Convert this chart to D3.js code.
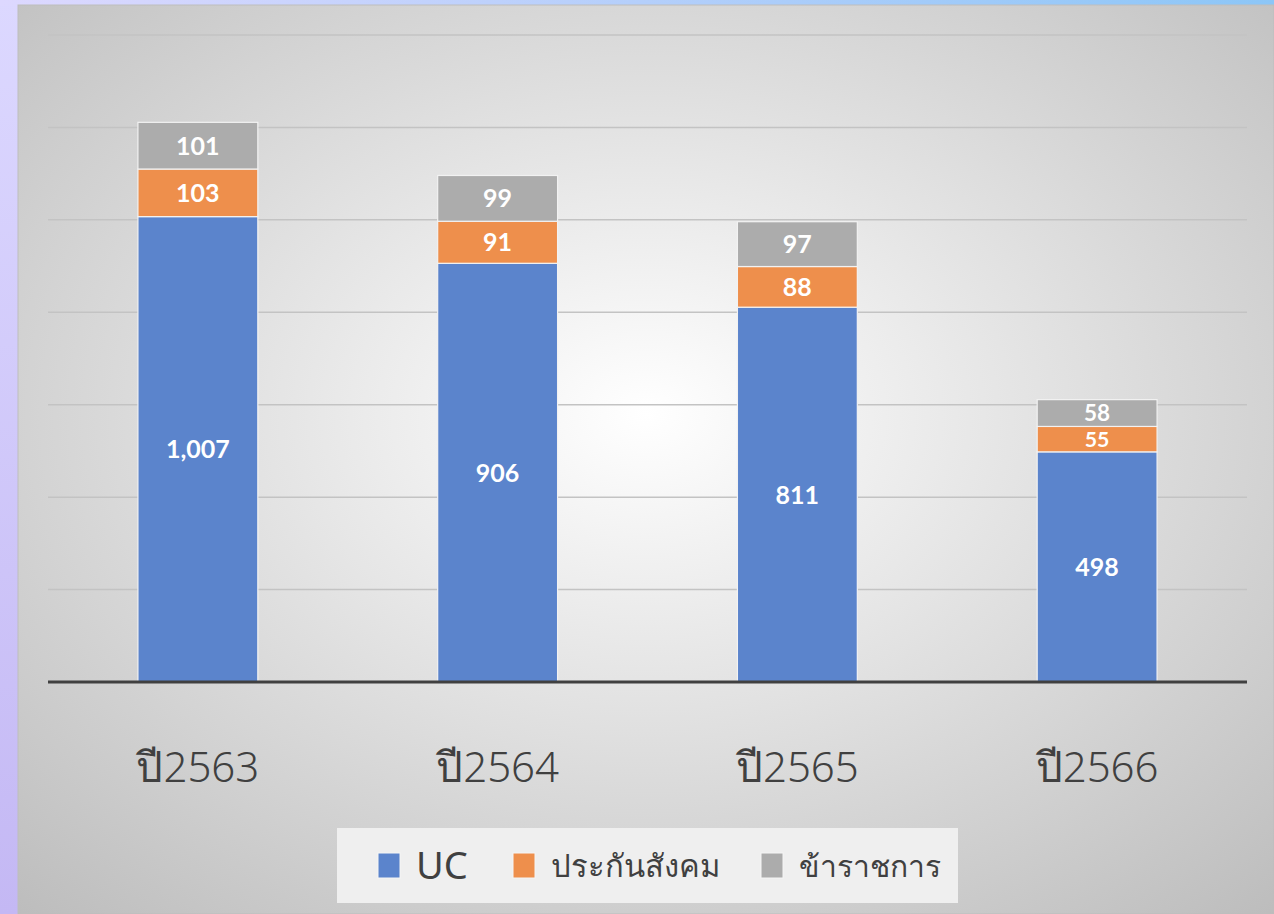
<!DOCTYPE html>
<html>
<head>
<meta charset="utf-8">
<script src="https://cdn.jsdelivr.net/npm/d3@7"></script>
<style>
  html, body { margin: 0; padding: 0; background: #ddd8ff; }
  svg { display: block; }
</style>
</head>
<body>
<div id="wrapper"></div>
<script>
const years = ["ปี2563", "ปี2564", "ปี2565", "ปี2566"]
const seriesNames = ["UC", "ประกันสังคม", "ข้าราชการ"]
const ucValues = [1007, 906, 811, 498]
const socialValues = [103, 91, 88, 55]
const civilValues = [101, 99, 97, 58]
const yTicks = [0, 200, 400, 600, 800, 1000, 1200, 1400]
const colors = ["#5b84cc", "#ee8f4c", "#acacac"]

const width = 1274
const height = 914
let dimensions = {
    width: width,
    height: height,
    margin: { top: 35, right: 27, bottom: 232, left: 48 },
}
dimensions.boundedWidth = dimensions.width - dimensions.margin.left - dimensions.margin.right
dimensions.boundedHeight = dimensions.height - dimensions.margin.top - dimensions.margin.bottom

const rows = years.map((y, i) => ({
    year: y,
    UC: ucValues[i],
    "ประกันสังคม": socialValues[i],
    "ข้าราชการ": civilValues[i],
}))

const svg = d3.select("#wrapper").append("svg")
    .attr("width", dimensions.width)
    .attr("height", dimensions.height)

const defs = svg.append("defs")
const topGrad = defs.append("linearGradient").attr("id", "topStrip")
topGrad.append("stop").attr("offset", "0%").attr("stop-color", "#ddd8ff")
topGrad.append("stop").attr("offset", "100%").attr("stop-color", "#8cc6f7")
const sideGrad = defs.append("linearGradient").attr("id", "sideStrip")
    .attr("x1", 0).attr("y1", 0).attr("x2", 0).attr("y2", 1)
sideGrad.append("stop").attr("offset", "0%").attr("stop-color", "#dcd8ff")
sideGrad.append("stop").attr("offset", "100%").attr("stop-color", "#c4b8f4")
const bgGrad = defs.append("radialGradient").attr("id", "bg")
    .attr("cx", "50%").attr("cy", "45%").attr("r", "75%")
bgGrad.append("stop").attr("offset", "0%").attr("stop-color", "#ffffff")
bgGrad.append("stop").attr("offset", "100%").attr("stop-color", "#bcbcbc")

// page strips
svg.append("rect").attr("width", width).attr("height", height).attr("fill", "url(#sideStrip)")
svg.append("rect").attr("x", 0).attr("y", 0).attr("width", width).attr("height", 6).attr("fill", "url(#topStrip)")
svg.append("rect").attr("x", 18).attr("y", 5).attr("width", width - 18).attr("height", height - 5)
    .attr("fill", "url(#bg)").attr("stroke", "#bdbdbd").attr("stroke-width", 1)

const bounds = svg.append("g")
    .attr("transform", `translate(${dimensions.margin.left},${dimensions.margin.top})`)

const xScale = d3.scaleBand()
    .domain(years)
    .range([0, dimensions.boundedWidth])
    .paddingInner(0.6)
    .paddingOuter(0.3)

const yScale = d3.scaleLinear()
    .domain([0, 1400])
    .range([dimensions.boundedHeight, 0])

// gridlines
bounds.append("g")
    .selectAll("line")
    .data(yTicks.slice(1))
    .join("line")
    .attr("x1", 0)
    .attr("x2", dimensions.boundedWidth)
    .attr("y1", d => yScale(d))
    .attr("y2", d => yScale(d))
    .attr("stroke", "#c3c3c3")
    .attr("stroke-width", 1.5)

const stack = d3.stack().keys(seriesNames)(rows)

const layers = bounds.append("g")
    .selectAll("g")
    .data(stack)
    .join("g")
    .attr("fill", (d, i) => colors[i])

layers.selectAll("rect")
    .data(d => d)
    .join("rect")
    .attr("x", d => xScale(d.data.year))
    .attr("width", xScale.bandwidth())
    .attr("y", d => yScale(d[1]))
    .attr("height", d => yScale(d[0]) - yScale(d[1]))
    .attr("stroke", "#f2f2f2")
    .attr("stroke-width", 1.2)

// label size shrinks a bit on thin segments so the labels don't collide
const labelSize = d => Math.min(25, (yScale(d[0]) - yScale(d[1])) * 0.84)

layers.selectAll("text")
    .data(d => d)
    .join("text")
    .attr("x", d => xScale(d.data.year) + xScale.bandwidth() / 2)
    .attr("y", d => (yScale(d[0]) + yScale(d[1])) / 2)
    .attr("dy", "0.36em")
    .attr("text-anchor", "middle")
    .attr("fill", "#ffffff")
    .style("font-family", "Lato, 'Open Sans', sans-serif")
    .style("font-weight", "bold")
    .style("font-size", d => labelSize(d) + "px")
    .text(d => d3.format(",")(d[1] - d[0]))

// baseline
bounds.append("line")
    .attr("x1", 0)
    .attr("x2", dimensions.boundedWidth)
    .attr("y1", yScale(0))
    .attr("y2", yScale(0))
    .attr("stroke", "#404040")
    .attr("stroke-width", 3)

// x axis labels
const xAxis = bounds.append("g")
    .attr("transform", `translate(0,${dimensions.boundedHeight})`)
    .call(d3.axisBottom(xScale).tickSize(0).tickPadding(70))
xAxis.select(".domain").remove()
xAxis.selectAll("text")
    .attr("fill", "#404040")
    .style("font", "300 42px 'Noto Sans', 'Open Sans', sans-serif")

// legend
const legend = svg.append("g")
legend.append("rect")
    .attr("x", 337).attr("y", 828).attr("width", 621).attr("height", 75)
    .attr("fill", "#efefef")
const legendItems = [
    { name: seriesNames[0], x: 378, size: 38 },
    { name: seriesNames[1], x: 513, size: 31 },
    { name: seriesNames[2], x: 761, size: 30 },
]
legendItems.forEach((item, i) => {
    legend.append("rect")
        .attr("x", item.x).attr("y", 853).attr("width", 22).attr("height", 25)
        .attr("fill", colors[i]).attr("stroke", "#f5f5f5").attr("stroke-width", 1)
    legend.append("text")
        .attr("x", item.x + 38).attr("y", 866)
        .attr("dy", "0.35em")
        .attr("fill", "#404040")
        .style("font", `${item.size}px 'Noto Sans', 'Open Sans', sans-serif`)
        .text(item.name)
})
</script>
</body>
</html>
